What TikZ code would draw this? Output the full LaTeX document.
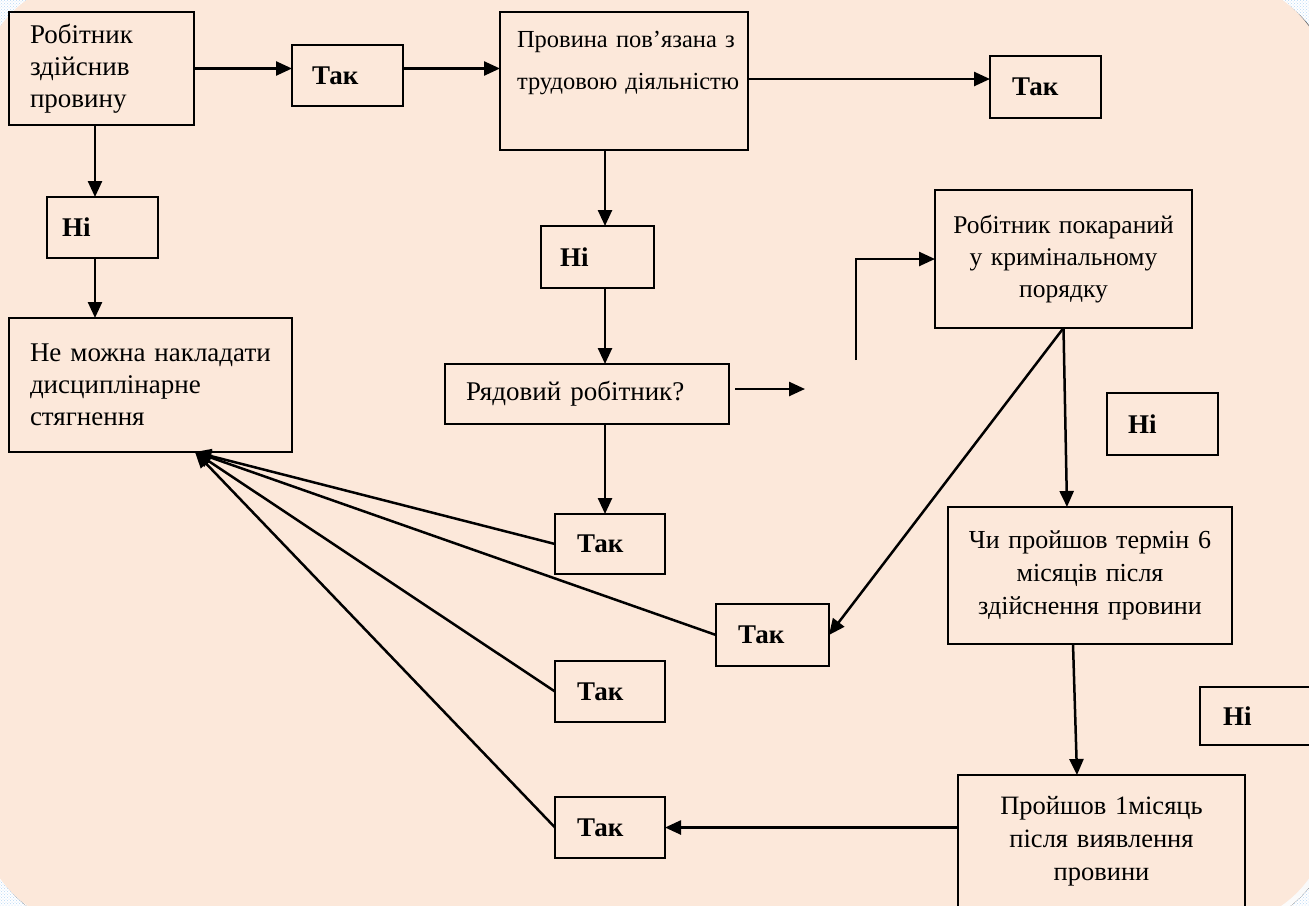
\documentclass[tikz,border=0pt]{standalone}
\usepackage{fontspec}
\setmainfont{Liberation Serif}
\usetikzlibrary{arrows.meta,patterns}
\definecolor{peach}{RGB}{252,232,218}
\definecolor{shade}{RGB}{112,112,112}
\definecolor{dotblue}{RGB}{185,215,245}
\newcommand{\fs}[2]{\fontsize{#1}{#2}\selectfont}
\begin{document}
\begin{tikzpicture}[x=1pt,y=-1pt,
  every node/.style={outer sep=0pt, inner ysep=0pt},
  box/.style={draw, line width=2.5pt, anchor=north west, font=\fs{27}{32}},
  % width, height, side inset (text width = width - 2*inset)
  cell/.style n args={3}{minimum width=#1, minimum height=#2, inner xsep=#3,
    text width=#1-2*#3},
  answer/.style={box, font=\fs{27}{32}\bfseries, align=left},
  conn/.style={line width=2.5pt, -{Triangle[length=16pt,width=14pt]}},
]
\useasboundingbox (0,0) rectangle (1309,905);

% page background: dotted paper, shadow and rounded sheet
\fill[white] (0,0) rectangle (1309,905);
\fill[pattern=crosshatch dots, pattern color=dotblue] (0,0) rectangle (1309,905);
\fill[shade, rounded corners=110pt] (-16,-16) rectangle (1333,929);
\fill[peach, rounded corners=110pt] (-20,-20) rectangle (1329,925);

% question boxes
\node[box, cell={185pt}{113pt}{21pt}, align=left] (A) at (9,12)
  {\mbox{Робітник}\\\mbox{здійснив}\\\mbox{провину}};
\node[box, cell={248pt}{138pt}{17pt}, align=left, font=\fs{24.5}{42}] (B) at (500,12)
  {\mbox{Провина пов’язана з}\\\mbox{трудовою діяльністю}\\\mbox{}};
\node[box, cell={283pt}{134pt}{21pt}, align=left] (C) at (9,318)
  {\mbox{Не можна накладати}\\\mbox{дисциплінарне}\\\mbox{стягнення}};
\node[box, cell={284pt}{60pt}{21pt}, align=left] (D) at (445,364)
  {\mbox{Рядовий робітник?}};
\node[box, cell={257pt}{138pt}{8pt}, align=center, font=\fs{25.5}{32}] (E) at (935,190)
  {Робітник покараний\\у кримінальному\\порядку};
\node[box, cell={284pt}{137pt}{8pt}, align=center, font=\fs{26}{33}] (F) at (948,507)
  {Чи пройшов термін 6\\місяців після\\здійснення провини};
\node[box, cell={287pt}{133pt}{8pt}, align=center, font=\fs{26.5}{33}] (G) at (958,775)
  {Пройшов 1місяць\\після виявлення\\провини};

% answer boxes
\node[answer, cell={111pt}{61pt}{20pt}] (T1) at (292,45) {Так};
\node[answer, cell={111pt}{62pt}{22pt}] (T2) at (990,56) {Так};
\node[answer, cell={111pt}{61pt}{15pt}] (N1) at (47,197) {Ні};
\node[answer, cell={113pt}{62pt}{19pt}] (N2) at (541,226) {Ні};
\node[answer, cell={110pt}{60pt}{22pt}] (T3) at (555,514) {Так};
\node[answer, cell={111pt}{62pt}{21pt}] (N3) at (1107,393) {Ні};
\node[answer, cell={113pt}{62pt}{22pt}] (T4) at (716,604) {Так};
\node[answer, cell={110pt}{61pt}{22pt}] (T6) at (555,661) {Так};
\node[answer, cell={130pt}{58pt}{23pt}] (N4) at (1200,687) {Ні};
\node[answer, cell={110pt}{61pt}{22pt}] (T5) at (555,797) {Так};

% loose ends
\coordinate (d1) at (805,389);
\coordinate (e0) at (856,360);

% connectors
\draw[conn] (A.east) -- (A.east -| T1.west);
\draw[conn] (T1.east |- A.east) -- (B.west |- A.east);
\draw[conn] ([yshift=2pt]B.east) -- ([yshift=2pt]B.east -| T2.west);
\draw[conn] ([xshift=-6.5pt]A.south) -- ([xshift=-6.5pt]A.south |- N1.north);
\draw[conn] ([xshift=-7.5pt]N1.south) -- ([xshift=-7.5pt]N1.south |- C.north);
\draw[conn] ([xshift=-19pt]B.south) -- ([xshift=-19pt]B.south |- N2.north);
\draw[conn] ([xshift=7.5pt]N2.south) -- ([xshift=7.5pt]N2.south |- D.north);
\draw[conn] ([xshift=18pt]D.south) -- ([xshift=18pt]D.south |- T3.north);
\draw[conn] ([xshift=6pt]D.east |- d1) -- (d1);
\draw[conn] (e0) |- (E.west);
\draw[conn] (E.south) -- ([xshift=-23pt]F.north);
\draw[conn] (E.south) -- (T4.east);
\draw[conn] ([xshift=-17pt]F.south) -- ([xshift=-24.5pt]G.north);
\draw[conn] (G.west |- T5.east) -- (T5.east);
\draw[conn] (T3.west) -- ([xshift=186pt]C.south west);
\draw[conn] (T4.west) -- ([xshift=186pt]C.south west);
\draw[conn] (T6.west) -- ([xshift=186pt]C.south west);
\draw[conn] (T5.west) -- ([xshift=186pt]C.south west);
\end{tikzpicture}
\end{document}
